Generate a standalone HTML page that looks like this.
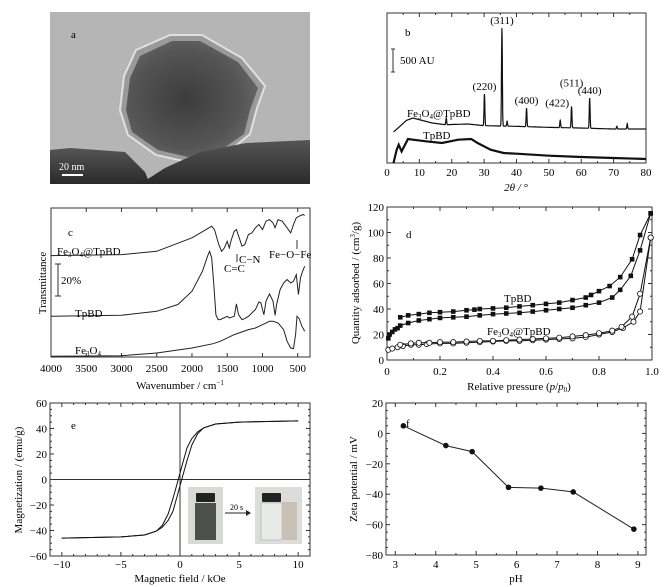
<!DOCTYPE html>
<html><head><meta charset="utf-8"><style>
body{margin:0;background:#fff}
svg{display:block;font-family:"Liberation Serif",serif;font-size:11px}
</style></head><body>
<svg id="fig" width="666" height="587" viewBox="0 0 666 587" xmlns="http://www.w3.org/2000/svg">
<defs>
<radialGradient id="pg" cx="0.45" cy="0.5" r="0.6"><stop offset="0" stop-color="#3c3c3c"/><stop offset="0.7" stop-color="#555"/><stop offset="1" stop-color="#6a6a6a"/></radialGradient>
<linearGradient id="bg2" x1="0" y1="0" x2="0" y2="1"><stop offset="0" stop-color="#555"/><stop offset="1" stop-color="#2a2a2a"/></linearGradient>
</defs>
<g>
<rect x="50" y="12" width="260" height="172" fill="#b5b5b5"/>
<polygon points="136,50 170,35 202,35 242,58 265,86 257,108 250,134 228,152 188,162 156,155 128,135 120,110 124,76" fill="#9a9a9a" stroke="#e0e0e0" stroke-width="2"/>
<polygon points="140,56 172,41 200,41 238,62 258,88 250,110 244,134 224,148 188,157 158,150 132,132 126,110 130,78" fill="url(#pg)"/>
<polygon points="50,150 70,148 125,152 145,172 150,184 50,184" fill="url(#bg2)"/>
<polygon points="140,184 165,168 200,152 246,143 310,140 310,184" fill="url(#bg2)"/>
<text x="71" y="38" font-size="11">a</text>
<text x="59" y="170" fill="#fff" font-size="10">20 nm</text>
<rect x="62" y="174" width="21" height="2" fill="#fff"/>
</g>
<g id="pb"></g>
<g id="pc"></g>
<g id="pd"></g>
<g id="pe"></g>
<g id="pf"></g>
</svg>
<script>
// ---------- data ----------
const xrdBaseX=[2,4,6,8,10,14,18,25,30,40,50,60,70,80];
const xrdBaseY=[695,822,956,1008,971,896,859,874,837,822,799,784,762,762];
const xrdPeakX=[18.3,30.1,35.5,37.1,43.1,53.5,57,62.6,71,74.2];
const xrdPeakTop=[1008,1546,3025,934,1233,956,1270,1457,822,881];
const xrdPeakLabels=["","(220)","(311)","","(400)","(422)","(511)","(440)","",""];
const tpbdX=[2,3,3.6,4.5,6.5,8,12,17,22,26,28,32,36,40,50,60,70,80];
const tpbdY=[0,299,411,261,538,523,486,448,523,538,448,299,224,209,164,134,112,90];

const ftirFeTpWn=[4000,3000,2500,2000,1800,1720,1680,1620,1580,1540,1500,1470,1440,1400,1370,1330,1290,1250,1200,1150,1100,1050,1000,950,900,850,820,780,720,650,600,560,520,480,420,400];
const ftirFeTpT=[64,64.6,66.7,75.2,80.4,82.5,80.4,70.9,66.7,68.8,73,68.8,74.1,79.4,80.4,75.2,69.9,70.9,77.3,78.3,81.5,83.6,80.4,85.7,86.7,84.6,81.5,86.7,85.7,81.5,78.3,83.6,87.8,88.8,89.9,89.3];
const ftirTpWn=[4000,3000,2500,2200,2000,1850,1780,1750,1720,1690,1660,1630,1600,1500,1470,1400,1370,1340,1290,1250,1200,1100,1050,1020,1000,980,950,900,850,820,800,750,700,650,600,560,520,490,460,430,400];
const ftirTpT=[25.7,26.3,28.8,33.1,41.5,54.1,63.6,66.7,62.5,45.7,26.7,23.6,23.6,25.7,24.6,25.7,33.5,26.7,23.6,24.2,25.7,29.9,34.7,34.1,29.9,26.7,35.2,39.8,35.2,26.3,33.1,42.5,46.7,48.8,46.7,47.8,52,39.4,49.9,54.1,57.3];
const ftirFeWn=[4000,3000,2500,2000,1700,1600,1400,1200,1100,1000,900,850,780,700,650,600,560,530,510,480,440,400];
const ftirFeT=[0.5,0.8,2.5,5.7,8.4,9.9,14.1,17.3,18.3,20.4,22.5,22.5,21.5,17.3,9.9,5.7,5.3,14.1,25.7,24.2,19.4,16.2];

const tpAdsP=[0.005,0.01,0.02,0.03,0.04,0.05,0.08,0.12,0.16,0.2,0.25,0.3,0.35,0.4,0.45,0.5,0.55,0.6,0.65,0.7,0.75,0.8,0.85,0.88,0.92,0.955,0.995];
const tpAdsQ=[17,20,22,24,25,27,29,31,32,33,33.5,34,35,36,36.5,37,38,39,40,41,43,45,49,55,66,86,115];
const tpDesP=[0.05,0.08,0.12,0.16,0.2,0.25,0.3,0.33,0.35,0.4,0.45,0.5,0.55,0.6,0.65,0.7,0.75,0.77,0.8,0.84,0.88,0.925,0.955,0.995];
const tpDesQ=[33.5,35,36,37,37.5,38,39,39.5,40,40.5,41,42,43,44,45,47,49,51,54,58,65,79,98,115];
const feAdsP=[0.005,0.02,0.04,0.06,0.09,0.12,0.15,0.2,0.25,0.3,0.35,0.4,0.45,0.5,0.55,0.6,0.65,0.7,0.75,0.8,0.85,0.89,0.93,0.955,0.995];
const feAdsQ=[8,9,10,11,12,12,12.5,13,13,13.5,14,14.5,15,15,15.5,16,16.5,17,18,20,22,25,30,38,96];
const feDesP=[0.05,0.09,0.12,0.16,0.2,0.25,0.3,0.35,0.4,0.45,0.5,0.55,0.6,0.65,0.7,0.75,0.8,0.85,0.885,0.925,0.955,0.995];
const feDesQ=[12,13,13.5,13.5,14,14,14.5,15,15,15.5,16,16.5,17,17.5,18.5,19.5,21,23,26,34,52,96];

const magUpH=[-10,-5,-3,-2,-1.5,-1,-0.6,-0.3,0,0.3,0.6,1,1.5,2,3,5,10];
const magUpM=[-46,-45,-43.5,-40.5,-36,-27,-15,-5,5,15,25,32,37.5,40.5,43.5,45,46];
const magDnH=[10,5,3,2,1.5,1,0.6,0.3,0,-0.3,-0.6,-1,-1.5,-2,-3,-5,-10];
const magDnM=[46,45,43.5,40.5,36,27,15,5,-5,-15,-25,-32,-37.5,-40.5,-43.5,-45,-46];

const zetaPH=[3.2,4.25,4.9,5.8,6.6,7.4,8.9];
const zetaMV=[5,-8,-12,-35.5,-36,-38.5,-63];

// ---------- helpers ----------
const NS="http://www.w3.org/2000/svg";
function mk(parent,tag,attrs,txt){const e=document.createElementNS(NS,tag);for(const k in attrs)e.setAttribute(k,attrs[k]);if(txt!==undefined)e.textContent=txt;parent.appendChild(e);return e;}
function lin(d0,d1,r0,r1){return v=>r0+(v-d0)/(d1-d0)*(r1-r0);}
function pathOf(xs,ys,sx,sy){return xs.map((x,i)=>(i?'L':'M')+sx(x).toFixed(1)+','+sy(ys[i]).toFixed(1)).join('');}
function box(g,l,t,r,b){const e=mk(g,'rect',{x:l,y:t,width:r-l,height:b-t,fill:'none',stroke:'#333','stroke-width':1});

}
function xticks(g,vals,sx,b,t,labels,ly,minor){
 vals.forEach((v,i)=>{const x=sx(v);mk(g,'line',{x1:x,y1:b,x2:x,y2:b-4,stroke:'#333'});mk(g,'line',{x1:x,y1:t,x2:x,y2:t+4,stroke:'#333'});
 const tx=mk(g,'text',{x:x,y:ly,'text-anchor':'middle'},labels[i]);
 
 });
 (minor||[]).forEach(v=>{const x=sx(v);mk(g,'line',{x1:x,y1:b,x2:x,y2:b-2,stroke:'#333'});mk(g,'line',{x1:x,y1:t,x2:x,y2:t+2,stroke:'#333'});});
}
function yticks(g,vals,sy,l,r,labels,minor){
 vals.forEach((v,i)=>{const y=sy(v);mk(g,'line',{x1:l,y1:y,x2:l+4,y2:y,stroke:'#333'});mk(g,'line',{x1:r,y1:y,x2:r-4,y2:y,stroke:'#333'});
 const tx=mk(g,'text',{x:l-3,y:y+4,'text-anchor':'end'},labels[i]);
 
 });
 (minor||[]).forEach(v=>{const y=sy(v);mk(g,'line',{x1:l,y1:y,x2:l+2,y2:y,stroke:'#333'});mk(g,'line',{x1:r,y1:y,x2:r-2,y2:y,stroke:'#333'});});
}
function label(g,x,y,txt,name,extra){const e=mk(g,'text',Object.assign({x:x,y:y},extra||{}));e.innerHTML=txt;

return e;}
function range(a,b,s){const o=[];for(let v=a;v<=b+1e-9;v+=s)o.push(+v.toFixed(4));return o;}

// ---------- panel b ----------
(function(){const g=document.getElementById('pb');const L=387,R=646,T=13,B=163;
const sx=lin(0,80,L,R),sy=lin(0,3363,B,T);box(g,L,T,R,B);
const tv=range(0,80,10);xticks(g,tv,sx,B,T,tv.map(String),176,range(5,75,10));
function base(x){for(let i=1;i<xrdBaseX.length;i++)if(x<=xrdBaseX[i]){const f=(x-xrdBaseX[i-1])/(xrdBaseX[i]-xrdBaseX[i-1]);return xrdBaseY[i-1]+f*(xrdBaseY[i]-xrdBaseY[i-1]);}return xrdBaseY[xrdBaseY.length-1];}
const xs=[],ys=[];for(let x=2;x<=80;x+=0.05){let y=base(x);xrdPeakX.forEach((p,i)=>{y+=(xrdPeakTop[i]-base(p))*Math.exp(-Math.pow((x-p)/0.18,2));});xs.push(x);ys.push(y);}
const p1=mk(g,'path',{d:pathOf(xs,ys,sx,sy),fill:'none',stroke:'#111','stroke-width':1.2});


const p2=mk(g,'path',{d:pathOf(tpbdX,tpbdY,sx,sy),fill:'none',stroke:'#111','stroke-width':2.2});


xrdPeakX.forEach((p,i)=>{if(!xrdPeakLabels[i])return;const off={"(511)":[0,-20],"(422)":[-3,-14]}[xrdPeakLabels[i]]||[0,-4];
label(g,sx(p)+off[0],sy(xrdPeakTop[i])+off[1],xrdPeakLabels[i],'peak-label',{'text-anchor':'middle'});});
label(g,405,36,'b','panel-b-label');
mk(g,'path',{d:'M393,49V72M391,49H395M391,72H395',stroke:'#333',fill:'none'});
label(g,400,64,'500 AU','scale-bar-label');
label(g,407,117,'Fe<tspan font-size="7" dy="2">3</tspan><tspan dy="-2">O</tspan><tspan font-size="7" dy="2">4</tspan><tspan dy="-2">@TpBD</tspan>','series-label-fe3o4-tpbd');
label(g,423,139,'TpBD','series-label-tpbd');
label(g,516,191,'2<tspan font-style="italic">θ</tspan> / °','x-axis-title',{'text-anchor':'middle','font-style':'italic'});
})();

// ---------- panel c ----------
(function(){const g=document.getElementById('pc');const L=51,R=310,T=208,B=357;
const sx=lin(4000,500,L,297.7),sy=lin(0,94,B,T);box(g,L,T,R,B);
const tv=range(500,4000,500);xticks(g,tv,sx,B,T,tv.map(String),372);
[[ftirFeTpWn,ftirFeTpT,'fe3o4-tpbd-ftir-line'],[ftirTpWn,ftirTpT,'tpbd-ftir-line'],[ftirFeWn,ftirFeT,'fe3o4-ftir-line']].forEach(s=>{
const p=mk(g,'path',{d:pathOf(s[0],s[1],sx,sy),fill:'none',stroke:'#222','stroke-width':1});

});
label(g,68,236,'c','panel-c-label');
label(g,57,255,'Fe<tspan font-size="7" dy="2">3</tspan><tspan dy="-2">O</tspan><tspan font-size="7" dy="2">4</tspan><tspan dy="-2">@TpBD</tspan>','series-label-fe3o4-tpbd');
mk(g,'path',{d:'M58,264V296M55,264H61M55,296H61',stroke:'#333',fill:'none'});
label(g,61,284,'20%','scale-bar-label');
label(g,75,317,'TpBD','series-label-tpbd');
label(g,75,354,'Fe<tspan font-size="7" dy="2">3</tspan><tspan dy="-2">O</tspan><tspan font-size="7" dy="2">4</tspan>','series-label-fe3o4');
mk(g,'line',{x1:237,y1:254,x2:237,y2:262,stroke:'#333'});
label(g,239,263,'C−N','annotation-c-n');
label(g,224,272,'C=C','annotation-c-c');
mk(g,'line',{x1:297,y1:240,x2:297,y2:249,stroke:'#333'});
label(g,269,258,'Fe−O−Fe','annotation-fe-o-fe');
label(g,180,389,'Wavenumber / cm<tspan font-size="7" dy="-4">−1</tspan>','x-axis-title',{'text-anchor':'middle'});
label(g,0,0,'Transmittance','y-axis-title',{transform:'translate(46,283) rotate(-90)','text-anchor':'middle'});
})();

// ---------- panel d ----------
(function(){const g=document.getElementById('pd');const L=387,R=652,T=207,B=360;
const sx=lin(0,1,L,R),sy=lin(0,120,B,T);box(g,L,T,R,B);
const tv=range(0,1,0.2);xticks(g,tv,sx,B,T,tv.map(v=>v===0?'0':v.toFixed(1)),375,range(0.1,0.9,0.2));
const yv=range(0,120,20);yticks(g,yv,sy,L,R,yv.map(String),range(10,110,20));
[[tpAdsP,tpAdsQ,'tpbd-adsorption',1],[tpDesP,tpDesQ,'tpbd-desorption',1],[feAdsP,feAdsQ,'fe3o4-tpbd-adsorption',0],[feDesP,feDesQ,'fe3o4-tpbd-desorption',0]].forEach(s=>{
const p=mk(g,'path',{d:pathOf(s[0],s[1],sx,sy),fill:'none',stroke:'#111','stroke-width':1});


s[0].forEach((x,i)=>{let m;if(s[3]){m=mk(g,'rect',{x:sx(x)-2.3,y:sy(s[1][i])-2.3,width:4.6,height:4.6,fill:'#111'});}
else{m=mk(g,'circle',{cx:sx(x),cy:sy(s[1][i]),r:2.6,fill:'#fff',stroke:'#111','stroke-width':0.8});}

});});
label(g,406,238,'d','panel-d-label');
label(g,504,302,'TpBD','series-label-tpbd');
label(g,487,335,'Fe<tspan font-size="7" dy="2">3</tspan><tspan dy="-2">O</tspan><tspan font-size="7" dy="2">4</tspan><tspan dy="-2">@TpBD</tspan>','series-label-fe3o4-tpbd');
label(g,519,390,'Relative pressure (<tspan font-style="italic">p</tspan>/<tspan font-style="italic">p</tspan><tspan font-size="7" dy="2">0</tspan><tspan dy="-2">)</tspan>','x-axis-title',{'text-anchor':'middle'});
label(g,0,0,'Quantity adsorbed / (cm<tspan font-size="7" dy="-4">3</tspan><tspan dy="4">/g)</tspan>','y-axis-title',{transform:'translate(359,283) rotate(-90)','text-anchor':'middle'});
})();

// ---------- panel e ----------
(function(){const g=document.getElementById('pe');const L=50,R=310,T=403,B=556;
const sx=lin(-11,11,L,R),sy=lin(-60,60,B,T);box(g,L,T,R,B);
const tv=[-10,-5,0,5,10];xticks(g,tv,sx,B,T,tv.map(v=>v<0?'−'+(-v):String(v)),568,range(-10,10,1).filter(v=>v%5));
const yv=range(-60,60,20);yticks(g,yv,sy,L,R,yv.map(v=>v<0?'−'+(-v):String(v)),range(-55,55,5).filter(v=>v%20));
mk(g,'line',{x1:sx(0),y1:T,x2:sx(0),y2:B,stroke:'#333'});mk(g,'line',{x1:L,y1:sy(0),x2:R,y2:sy(0),stroke:'#333'});
[[magUpH,magUpM,'magnetization-ascending-branch'],[magDnH,magDnM,'magnetization-descending-branch']].forEach(s=>{
const p=mk(g,'path',{d:pathOf(s[0],s[1],sx,sy),fill:'none',stroke:'#111','stroke-width':1});

});
label(g,71,429,'e','panel-e-label');
const ph=mk(g,'g',{});
mk(ph,'rect',{x:188,y:487,width:35,height:57,fill:'#d9d9d6'});
mk(ph,'rect',{x:196,y:493,width:19,height:9,fill:'#222',rx:1});
mk(ph,'rect',{x:195,y:503,width:21,height:37,fill:'#4d4f4a'});
mk(ph,'line',{x1:225,y1:513,x2:250,y2:513,stroke:'#222'});
mk(ph,'path',{d:'M246,510L251,513L246,516Z',fill:'#222'});
label(g,230,510,'20 s','inset-time-label',{'font-size':'8'});
mk(ph,'rect',{x:255,y:487,width:47,height:57,fill:'#dcdcda'});
mk(ph,'rect',{x:262,y:493,width:19,height:9,fill:'#222',rx:1});
mk(ph,'rect',{x:261,y:503,width:21,height:37,fill:'#e8eaea',stroke:'#aaa','stroke-width':0.6});
mk(ph,'rect',{x:282,y:502,width:15,height:38,fill:'#c9c0b6'});
label(g,180,582,'Magnetic field / kOe','x-axis-title',{'text-anchor':'middle'});
label(g,0,0,'Magnetization / (emu/g)','y-axis-title',{transform:'translate(22,480) rotate(-90)','text-anchor':'middle'});
})();

// ---------- panel f ----------
(function(){const g=document.getElementById('pf');const L=386,R=646,T=403,B=555;
const sx=lin(2.77,9.2,L,R),sy=lin(-80,20,B,T);box(g,L,T,R,B);
const tv=range(3,9,1);xticks(g,tv,sx,B,T,tv.map(String),568,range(3.5,8.5,1));
const yv=range(-80,20,20);yticks(g,yv,sy,L,R,yv.map(v=>v<0?'−'+(-v):String(v)),range(-75,15,5).filter(v=>v%20));
const p=mk(g,'path',{d:pathOf(zetaPH,zetaMV,sx,sy),fill:'none',stroke:'#222','stroke-width':1});


zetaPH.forEach((x,i)=>{const c=mk(g,'circle',{cx:sx(x),cy:sy(zetaMV[i]),r:2.8,fill:'#111'});

});
label(g,406,427,'f','panel-f-label');
label(g,516,582,'pH','x-axis-title',{'text-anchor':'middle'});
label(g,0,0,'Zeta potential / mV','y-axis-title',{transform:'translate(357,479) rotate(-90)','text-anchor':'middle'});
})();
</script>
</body></html>
